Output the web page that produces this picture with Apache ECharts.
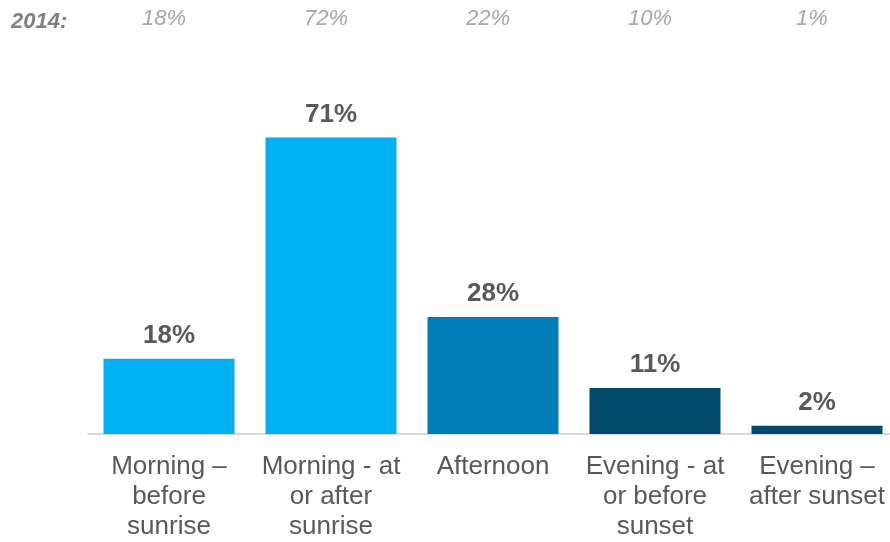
<!DOCTYPE html>
<html>
<head>
<meta charset="utf-8">
<script src="https://cdn.jsdelivr.net/npm/echarts@6/dist/echarts.min.js"></script>
<style>html,body{margin:0;padding:0;background:#fff;}#c{width:890px;height:542px;}</style>
</head>
<body>
<div id="c"></div>
<script>
const categories = ["Morning –\nbefore\nsunrise", "Morning - at\nor after\nsunrise", "Afternoon", "Evening - at\nor before\nsunset", "Evening –\nafter sunset"];
const values2015 = [18, 71, 28, 11, 2];
const labels2014 = ["18%", "72%", "22%", "10%", "1%"];
const title2014 = "2014:";
const barColors = ["#00B0F0", "#00B0F0", "#007DB8", "#004B6C", "#004B6C"];

const chart = echarts.init(document.getElementById('c'));
chart.setOption({
  animation: false,
  backgroundColor: '#ffffff',
  title: {
    text: title2014, left: 6, top: 6,
    textStyle: { fontFamily: 'Liberation Sans, Arial, sans-serif', fontSize: 22, fontWeight: 'bold', fontStyle: 'italic', color: '#808080' }
  },
  grid: { left: 88, right: -8, top: 100, bottom: 108, containLabel: false, outerBoundsMode: 'none' },
  xAxis: [
    {
      type: 'category', data: categories, position: 'bottom',
      axisLine: { show: true, lineStyle: { color: '#d9d9d9', width: 2 } },
      axisTick: { show: false },
      axisLabel: { margin: 18, fontFamily: 'Liberation Sans, Arial, sans-serif', fontSize: 26, lineHeight: 30, color: '#595959', interval: 0 }
    },
    {
      type: 'category', data: labels2014, position: 'top',
      axisLine: { show: false }, axisTick: { show: false },
      axisLabel: { margin: 70, padding: [0, 10, 0, 0], fontFamily: 'Liberation Sans, Arial, sans-serif', fontSize: 22, fontStyle: 'italic', color: '#a6a6a6', interval: 0 }
    }
  ],
  yAxis: { type: 'value', min: 0, max: 80, show: false, splitLine: { show: false } },
  series: [{
    type: 'bar', data: values2015, barWidth: 131, xAxisIndex: 0,
    itemStyle: { color: p => barColors[p.dataIndex] },
    label: {
      show: true, position: 'top', distance: 10, formatter: '{c}%',
      fontFamily: 'Liberation Sans, Arial, sans-serif', fontSize: 26, fontWeight: 'bold', color: '#595959'
    }
  }]
});
</script>
</body>
</html>
